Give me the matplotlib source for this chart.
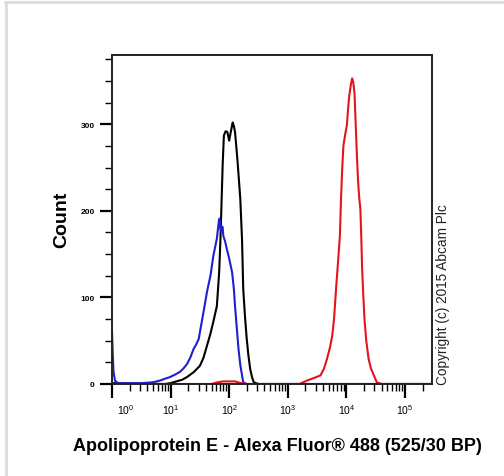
import numpy as np
import matplotlib
matplotlib.use("Agg")
import matplotlib.pyplot as plt
from matplotlib.ticker import FixedLocator, LogLocator, NullFormatter
import matplotlib.transforms as mtransforms

plt.rcParams['font.family'] = ['Liberation Sans', 'DejaVu Sans']
plt.rcParams['mathtext.default'] = 'regular'

# fluorescence channel (log10 of intensity) and event counts
black_log = [0.0, 0.9, 1.0, 1.1, 1.2, 1.28, 1.4, 1.5, 1.56, 1.62, 1.68, 1.73, 1.77, 1.79,
             1.81, 1.83, 1.85, 1.87, 1.89, 1.91, 1.94, 1.97, 2.0, 2.03, 2.06, 2.08, 2.1,
             2.14, 2.19, 2.22, 2.24, 2.27, 2.3, 2.33, 2.36, 2.39, 2.42, 2.5, 5.46]
black_cnt = [1, 0, 1, 3, 5, 8, 14, 21, 30, 44, 58, 72, 84, 90,
             110, 130, 165, 210, 255, 287, 292, 291, 281, 292, 302, 298, 291,
             260, 214, 166, 110, 78, 52, 32, 17, 8, 2, 0, 0]

blue_log = [0.0, 0.01, 0.025, 0.05, 0.1, 0.3, 0.5, 0.7, 0.82, 0.9, 0.99, 1.08, 1.16,
            1.22, 1.28, 1.34, 1.39, 1.44, 1.48, 1.53, 1.58, 1.62, 1.68, 1.73, 1.76,
            1.79, 1.81, 1.825, 1.835, 1.85, 1.86, 1.875, 1.89, 1.9, 1.93, 1.96, 2.0,
            2.05, 2.08, 2.1, 2.13, 2.16, 2.19, 2.22, 2.24, 2.3, 5.46]
blue_cnt = [62, 40, 15, 4, 1, 1, 1, 2, 4, 6, 8, 11, 14,
            18, 23, 31, 40, 46, 52, 71, 90, 106, 125, 148, 158,
            168, 180, 189, 191, 180, 177, 182, 181, 171, 165, 156, 145,
            129, 110, 90, 65, 40, 22, 10, 2, 0, 0]

red_log = [0.0, 1.7, 1.8, 1.9, 2.1, 2.2, 2.3, 3.2, 3.33, 3.45, 3.56, 3.62, 3.67, 3.72,
           3.76, 3.79, 3.81, 3.83, 3.85, 3.87, 3.89, 3.91, 3.93, 3.95, 3.98, 4.01,
           4.03, 4.05, 4.08, 4.1, 4.12, 4.14, 4.16, 4.18, 4.2, 4.22, 4.24, 4.255,
           4.27, 4.29, 4.31, 4.34, 4.38, 4.42, 4.47, 4.52, 4.6, 5.46]
red_cnt = [0, 0, 2, 3, 3, 1, 0, 0, 4, 7, 10, 18, 29, 42,
           56, 75, 95, 115, 133, 152, 171, 215, 249, 275, 288, 299,
           318, 333, 347, 353, 348, 335, 300, 265, 235, 215, 202, 170,
           133, 102, 75, 50, 29, 18, 10, 2, 0, 0]

decades = [1, 10, 100, 1000, 10000, 100000]
decade_labels = ['$10^{0}$', '$10^{1}$', '$10^{2}$', '$10^{3}$', '$10^{4}$', '$10^{5}$']
count_ticks = [0, 100, 200, 300]

fig = plt.figure(figsize=(5.04, 4.77), dpi=100)
ax = fig.add_axes([112/504, 1-385/477, 320/504, 329/477])

ax.plot(10**np.array(black_log), black_cnt, color='black', lw=1.5)
ax.plot(10**np.array(blue_log), blue_cnt, color='#1f1fd0', lw=1.5)
ax.plot(10**np.array(red_log), red_cnt, color='#e3141b', lw=1.5)

ax.set_xscale('log')
ax.set_xlim(1, 2.9e5)
ax.set_ylim(0, 380)

ax.set_xticks(decades)
ax.set_xticklabels(decade_labels, fontsize=7.5)
ax.xaxis.set_minor_locator(LogLocator(base=10, subs=np.arange(2, 10)))
ax.xaxis.set_minor_formatter(NullFormatter())
ax.set_yticks(count_ticks)
ax.set_yticklabels([str(v) for v in count_ticks], fontsize=6, fontweight='bold')
ax.yaxis.set_minor_locator(FixedLocator(np.arange(0, 380, 25)))

ax.tick_params(axis='x', which='major', direction='out', length=10, width=1.6, pad=3)
ax.tick_params(axis='x', which='minor', direction='out', length=5, width=1.0)
ax.tick_params(axis='y', which='major', direction='out', length=9, width=1.6, pad=3.5)
ax.tick_params(axis='y', which='minor', direction='out', length=5, width=1.0)

for s in ax.spines.values():
    s.set_color('#222222')
    s.set_linewidth(1.4)

# first decade label sits shifted right of its tick
lab0 = ax.get_xticklabels()[0]
lab0.set_transform(lab0.get_transform() + mtransforms.ScaledTranslation(10/72, 0, fig.dpi_scale_trans))

fig.text(62/504, 1-220/477, 'Count', rotation=90, fontsize=14, fontweight='bold',
         ha='center', va='center')
fig.text(277/504, 1-447/477, 'Apolipoprotein E - Alexa Fluor\u00ae 488 (525/30 BP)',
         fontsize=13, fontweight='bold', ha='center', va='center')
fig.text(443/504, 1-385/477, 'Copyright (c) 2015 Abcam Plc', rotation=90,
         fontsize=9.8, ha='center', va='bottom', color='#222222')

# light grey frame on top and left edges
fig.add_artist(plt.Line2D([5/504, 1], [1-3/477, 1-3/477], color='#dddddd', lw=2))
fig.add_artist(plt.Line2D([5.5/504, 5.5/504], [0, 1-3/477], color='#dddddd', lw=2))

fig.savefig('out.png', dpi=100)
